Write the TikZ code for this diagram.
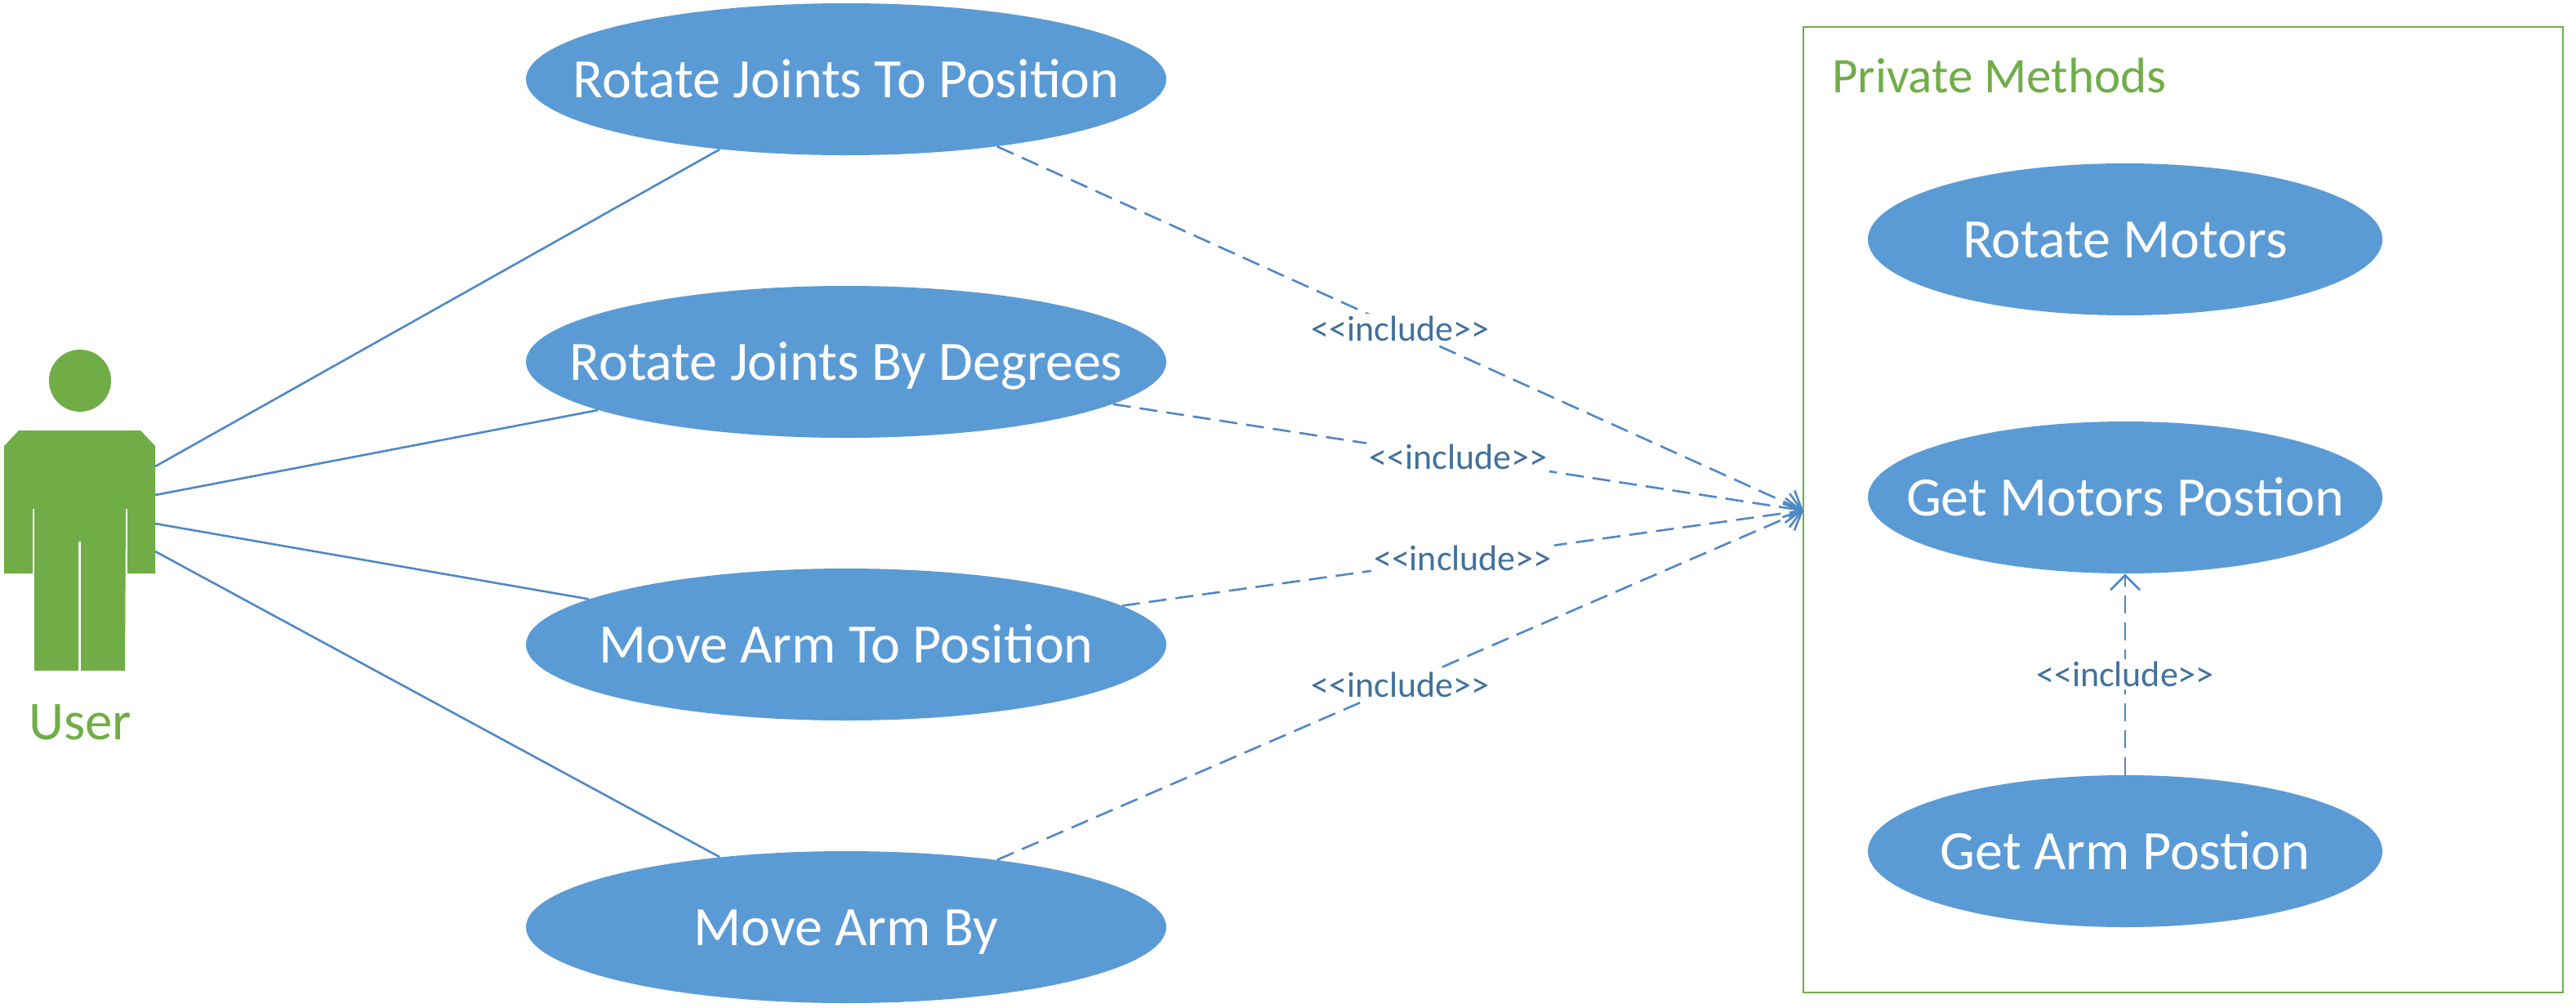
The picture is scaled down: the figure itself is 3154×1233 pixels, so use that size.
\documentclass[tikz,border=0pt]{standalone}
\usepackage{fontspec}
\setmainfont{Carlito}
\usetikzlibrary{shapes.geometric,arrows.meta}
\definecolor{ucblue}{HTML}{5B9BD5}
\definecolor{uclink}{HTML}{5088C6}
\definecolor{uctext}{HTML}{41719C}
\definecolor{ucgreen}{HTML}{70AD47}
\newcommand{\incltext}{{<}{<}include{>}{>}}
\tikzset{
  x=0.5pt,y=-0.5pt,
  casetext/.style={text=white,inner sep=0pt,text height=22pt,text depth=0pt,font=\fontsize{34}{40}\selectfont},
  usecase/.style={ellipse,fill=ucblue,draw=none,inner sep=0pt},
  bigcase/.style={usecase,minimum width=392pt,minimum height=93pt},
  smallcase/.style={usecase,minimum width=315pt,minimum height=93pt},
  assoc/.style={draw=uclink,line width=1.3pt},
  incl/.style={draw=uclink,line width=1.3pt,dash pattern=on 11pt off 5.5pt,-{Straight Barb[length=9pt,width=18pt,line width=1.3pt]}},
  incllabel/.style={fill=white,text=uctext,inner sep=1.5pt,font=\fontsize{22}{26}\selectfont},
  greentext/.style={text=ucgreen,inner sep=0pt},
}
\begin{document}
\begin{tikzpicture}
\useasboundingbox (0,0) rectangle (3154,1233);
\draw[ucgreen,line width=1.4pt] (2208,33) rectangle (3138,1215);
\node[greentext,anchor=west,font=\fontsize{30.5}{36}\selectfont] (pm) at (2243,93) {Private Methods};
% actor
\fill[ucgreen] (98,466) circle[radius=19pt];
\fill[ucgreen] (23,527) -- (172,527) -- (190,546) -- (190,702) -- (156,702) -- (156,623) -- (154,623) -- (153,821) -- (99,821) -- (99,663) -- (96,663) -- (96,821) -- (42,821) -- (42,623) -- (40,623) -- (40,702) -- (5,702) -- (5,546) -- cycle;
\node[greentext,font=\fontsize{33.5}{38}\selectfont] (user) at (98,884) {User};
\coordinate (p1) at (190,571);
\coordinate (p2) at (190,606);
\coordinate (p3) at (190,641);
\coordinate (p4) at (190,675);
\coordinate (tip) at (2208,625);
% use cases
\node[bigcase,label={[casetext]center:Rotate Joints To Position}] (a) at (1036,97) {};
\node[bigcase,label={[casetext]center:Rotate Joints By Degrees}] (b) at (1036,443) {};
\node[bigcase,label={[casetext]center:Move Arm To Position}] (c) at (1036,789) {};
\node[bigcase,label={[casetext]center:Move Arm By}] (d) at (1036,1135) {};
\node[smallcase,label={[casetext]center:Rotate Motors}] (e) at (2602,293) {};
\node[smallcase,label={[casetext]center:Get Motors Postion}] (f) at (2602,609) {};
\node[smallcase,label={[casetext]center:Get Arm Postion}] (g) at (2602,1042) {};
% associations
\draw[assoc] (p1) -- (a.209.7);
\draw[assoc] (p2) -- (b.191.1);
\draw[assoc] (p3) -- (c.170.1);
\draw[assoc] (p4) -- (d.151.6);
% includes
\draw[incl] (a.-24.5) -- node[incllabel,pos=0.5] (la) {\incltext} (tip);
\draw[incl] (b.-9) -- node[incllabel,pos=0.5] (lb) {\incltext} (tip);
\draw[incl] (c.8) -- node[incllabel,pos=0.5] (lc) {\incltext} (tip);
\draw[incl] (d.24) -- node[incllabel,pos=0.5] (ld) {\incltext} (tip);
\draw[incl] (g.north) -- node[incllabel,pos=0.5] (lg) {\incltext} (f.south);
\end{tikzpicture}
\end{document}
